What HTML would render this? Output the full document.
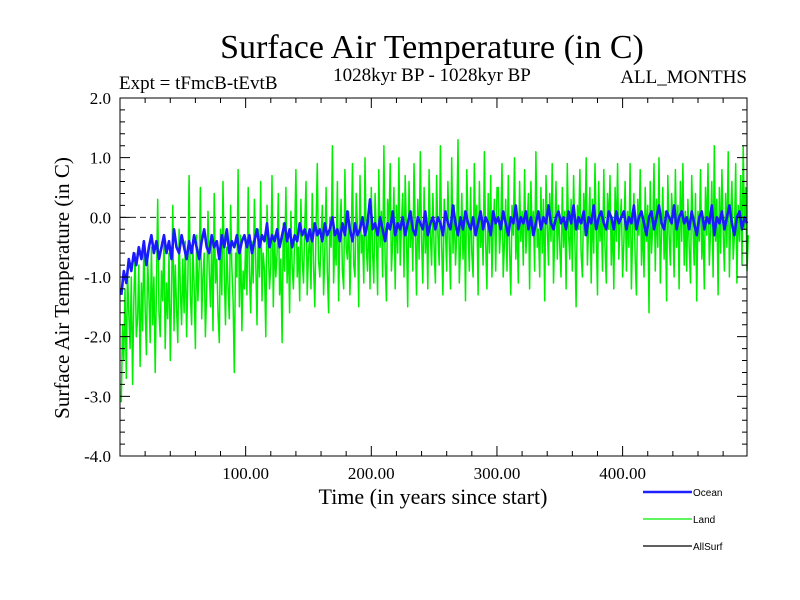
<!DOCTYPE html>
<html><head><meta charset="utf-8"><style>body{margin:0;background:#fff}svg{display:block}</style></head>
<body>
<svg id="chart" width="800" height="600" xmlns="http://www.w3.org/2000/svg" font-family="Liberation Serif, serif">
<text x="432" y="58" font-size="34" text-anchor="middle">Surface Air Temperature (in C)</text>
<text x="119" y="89" font-size="19">Expt = tFmcB-tEvtB</text>
<text x="432" y="81" font-size="19" text-anchor="middle">1028kyr BP - 1028kyr BP</text>
<text x="747" y="83" font-size="19" text-anchor="end">ALL_MONTHS</text>
<text transform="translate(69,288) rotate(-90)" font-size="21" text-anchor="middle">Surface Air Temperature (in C)</text>
<text x="433" y="504" font-size="22" text-anchor="middle">Time (in years since start)</text>
<g id="plot"></g>
<g font-family="Liberation Sans, sans-serif" font-size="10">
<line x1="643" y1="492" x2="692" y2="492" stroke="#2020ff" stroke-width="2.5"/>
<text x="693" y="496">Ocean</text>
<line x1="643" y1="519" x2="692" y2="519" stroke="#00ee00" stroke-width="1.2"/>
<text x="693" y="523">Land</text>
<line x1="643" y1="546" x2="692" y2="546" stroke="#000" stroke-width="1.2"/>
<text x="693" y="550">AllSurf</text>
</g>
</svg>
<script>
const yTicks=[2.0,1.0,0.0,-1.0,-2.0,-3.0,-4.0];
const yTickLabels=["2.0","1.0","0.0","-1.0","-2.0","-3.0","-4.0"];
const xTicks=[100,200,300,400];
const xTickLabels=["100.00","200.00","300.00","400.00"];
const landStart=1, landStep=1;
const landValues=[
-3.1,-1.8,-2.4,-1.2,-2.7,-0.9,-1.6,-2.2,-1.0,-2.8,-1.4,-0.6,-2.0,-1.7,-0.8,-2.5,-1.1,-1.9,-0.4,-1.5,-2.3,-0.7,-1.3,-2.1,-0.5,-1.8,-1.0,-2.6,-1.2,0.3,-1.6,-2.0,-0.9,-1.4,-0.3,-2.2,-1.1,-1.7,-0.6,-2.4,-1.3,0.2,-1.9,-0.8,-1.5,-2.1,-0.2,-1.2,-1.8,-0.7,
-1.6,-0.4,-2.0,-1.0,0.7,-1.3,-1.8,-0.5,-1.1,-2.2,-0.3,-1.4,-0.8,0.5,-1.7,-1.0,-0.6,-2.0,-1.2,0.1,-0.9,-1.5,-0.4,-1.9,0.4,-1.1,-0.7,-1.6,-2.1,-0.2,-1.3,0.6,-0.9,-1.8,-0.5,-1.2,-1.7,0.2,-0.8,-1.4,-2.6,-0.6,-1.0,0.8,-1.5,-0.3,-1.9,-0.9,-1.2,-0.4,
-1.3,0.5,-0.9,-1.6,-0.4,-1.1,0.3,-0.7,-1.8,-0.2,-1.0,0.6,-1.4,-0.6,-0.9,-2.0,0.2,-0.5,-1.2,-0.8,0.7,-1.5,-0.3,-1.0,-0.6,0.4,-1.3,-0.7,-2.1,-0.1,-0.9,0.5,-1.1,-0.4,-1.6,0.1,-0.8,-1.2,-0.3,0.8,-1.0,-0.5,-1.4,0.3,-0.7,-1.1,-0.2,0.6,-1.3,-0.6,
-0.3,-1.2,0.4,-0.8,-1.5,-0.2,0.9,-0.7,-1.0,-0.4,0.2,-1.3,-0.6,0.5,-0.9,-1.6,0.0,-0.5,1.2,-1.1,-0.3,-0.8,0.6,-1.4,-0.2,0.3,-0.9,-1.2,0.8,-0.5,-0.7,0.1,-1.3,-0.4,0.9,-0.8,-1.0,0.4,-0.2,-1.5,0.7,-0.6,-0.3,-1.1,1.0,-0.5,-0.9,0.2,-1.2,0.5,
-0.6,-1.1,0.4,-0.3,-1.3,0.8,-0.5,0.1,-1.0,1.2,-0.7,-1.4,0.3,-0.2,0.9,-0.9,-0.4,0.5,-1.2,0.2,-0.6,1.0,-0.8,-0.1,0.4,-1.0,0.7,-0.3,-1.5,0.6,-0.5,0.1,-0.9,0.9,-0.2,-1.3,0.3,-0.7,1.1,-0.4,-1.1,0.5,-0.6,0.0,-1.2,0.8,-0.3,-0.8,0.4,-0.5,
-1.1,0.7,-0.3,-0.8,1.2,-0.5,-1.3,0.3,-0.2,-0.9,0.6,-0.4,-1.2,1.0,-0.6,0.2,-0.8,-0.3,1.3,-1.1,-0.5,0.4,-0.7,0.1,-1.4,0.8,-0.2,-0.9,0.5,-0.6,-1.0,0.9,-0.3,0.2,-1.3,0.6,-0.5,-0.1,-0.8,1.1,-0.4,-1.2,0.4,-0.6,0.7,-1.0,-0.2,0.3,-0.9,0.5,
0.5,-0.6,-0.2,0.9,-1.0,-0.4,0.3,-0.9,0.7,-0.5,-1.3,0.2,-0.3,1.0,-0.7,-0.1,-1.1,0.6,-0.4,0.1,-0.8,0.8,-0.6,-0.2,0.4,-1.2,0.6,-0.3,0.1,-0.9,1.1,-0.5,-0.2,-1.0,0.5,-0.6,0.3,-1.4,0.7,-0.1,-0.8,0.4,-0.4,0.9,-1.1,-0.2,0.6,-0.7,0.2,-0.5,
-1.0,0.5,-0.5,0.1,-1.2,0.9,-0.3,-0.7,0.3,-0.9,0.7,-0.4,-1.5,0.2,-0.2,0.8,-0.6,-1.0,0.4,-0.3,1.0,-0.8,-0.1,0.5,-1.1,0.3,-0.6,0.9,-0.2,-1.3,0.6,-0.4,0.1,-0.9,0.8,-0.5,-1.1,0.4,-0.2,0.7,-0.8,0.0,-1.2,0.5,-0.4,0.9,-0.7,-0.1,0.3,-1.0,
-0.4,0.6,-0.9,0.1,-0.5,0.9,-1.2,-0.2,0.4,-0.7,-1.3,0.3,-0.3,0.8,-0.8,0.0,-1.0,0.5,-0.4,0.2,-1.6,0.6,-0.6,-0.1,0.9,-0.9,0.3,-0.5,1.0,-1.1,-0.2,0.5,-0.7,0.1,-1.4,0.7,-0.3,-0.8,0.4,-0.1,-1.0,0.8,-0.5,0.2,-1.2,0.6,-0.4,0.9,-0.8,0.1,
-0.9,0.3,-0.5,-1.1,0.7,-0.2,-0.8,0.4,-1.4,0.1,-0.4,0.8,-0.7,-0.1,-1.2,0.5,-0.3,0.9,-0.8,-0.2,0.6,-1.0,1.2,-0.4,0.3,-1.3,0.5,-0.6,0.8,-0.2,-0.9,0.4,-0.5,1.1,-1.0,0.0,0.6,-0.7,-0.3,0.9,-1.1,0.2,-0.4,0.7,-0.8,1.2,-0.2,0.5,-0.9,-0.3];
const oceanStart=1, oceanStep=2;
const oceanValues=[
-1.3,-0.9,-1.1,-0.7,-0.9,-0.6,-0.8,-0.5,-0.7,-0.4,-0.8,-0.5,-0.3,-0.6,-0.4,-0.7,-0.5,-0.3,-0.6,-0.4,-0.7,-0.2,-0.5,-0.6,-0.3,
-0.5,-0.7,-0.4,-0.6,-0.3,-0.5,-0.7,-0.4,-0.2,-0.5,-0.6,-0.3,-0.5,-0.4,-0.7,-0.3,-0.5,-0.2,-0.6,-0.4,-0.5,-0.3,-0.6,-0.4,-0.3,
-0.5,-0.3,-0.6,-0.4,-0.2,-0.5,-0.3,-0.4,-0.1,-0.5,-0.3,-0.4,-0.2,-0.5,-0.3,-0.1,-0.4,-0.2,-0.5,-0.3,-0.4,-0.1,-0.3,-0.2,-0.4,
-0.2,-0.4,-0.1,-0.3,-0.2,-0.4,-0.1,-0.3,-0.2,0.0,-0.3,-0.2,-0.4,-0.1,-0.3,0.1,-0.2,-0.4,-0.1,-0.3,-0.2,0.0,-0.3,-0.1,0.3,
-0.2,-0.1,-0.3,0.0,-0.2,-0.4,-0.1,-0.2,0.1,-0.3,-0.1,-0.2,0.0,-0.3,-0.1,0.1,-0.2,-0.3,0.0,-0.1,-0.2,0.1,-0.3,-0.1,0.0,
-0.2,0.0,-0.1,-0.3,0.1,-0.1,-0.2,0.2,-0.1,-0.3,0.0,-0.2,0.1,-0.1,-0.2,0.0,-0.3,-0.1,0.1,-0.2,0.0,-0.1,-0.3,0.1,-0.1,
0.0,-0.2,0.1,-0.1,-0.3,0.0,-0.1,0.2,-0.2,0.0,-0.1,0.1,-0.2,0.0,-0.3,-0.1,0.1,-0.2,0.0,-0.1,0.2,-0.1,-0.2,0.0,0.1,
-0.1,0.0,-0.2,0.1,-0.1,0.2,-0.2,0.0,-0.1,0.1,-0.3,0.0,-0.1,0.2,-0.2,0.0,0.1,-0.1,-0.2,0.1,0.0,-0.2,0.1,-0.1,0.0,
0.1,-0.2,0.0,-0.1,0.2,-0.2,0.0,0.1,-0.1,-0.3,0.0,0.1,-0.2,0.0,0.2,-0.1,-0.2,0.1,0.0,-0.1,0.2,-0.2,0.0,0.1,-0.1,
0.0,-0.2,0.1,-0.1,-0.3,0.0,0.1,-0.2,0.0,-0.1,0.2,-0.3,0.0,-0.1,0.1,-0.2,0.0,0.2,-0.1,-0.3,0.0,0.1,-0.2,0.0,-0.1];

const L=120,R=747,T=98,B=456,xMin=0,xMax=499,yMin=-4,yMax=2;
const xs=v=>L+(v-xMin)/(xMax-xMin)*(R-L);
const ys=v=>B-(v-yMin)/(yMax-yMin)*(B-T);
const NS='http://www.w3.org/2000/svg';
const plot=document.getElementById('plot');
function mk(tag,attrs){const e=document.createElementNS(NS,tag);for(const k in attrs)e.setAttribute(k,attrs[k]);plot.appendChild(e);return e;}

let e=mk('line',{x1:L,x2:R,y1:ys(0),y2:ys(0),stroke:'#000','stroke-dasharray':'6,4','stroke-width':0.8});



function series(vals,start,step,color,w,name){
  const pts=vals.map((v,i)=>xs(start+i*step).toFixed(1)+','+ys(v).toFixed(1)).join(' ');
  const p=mk('polyline',{points:pts,fill:'none',stroke:color,'stroke-width':w,'stroke-linejoin':'round'});
  
  
}
series(landValues,landStart,landStep,'#00ee00',1.5,'land-series');
series(oceanValues,oceanStart,oceanStep,'#1a1aff',2.6,'ocean-series');

e=mk('rect',{x:L,y:T,width:R-L,height:B-T,fill:'none',stroke:'#000','stroke-width':1});



for(let v=20;v<xMax;v+=20){
  const major=v%100===0, len=major?10:5;
  const t=mk('path',{d:`M${xs(v)},${B}v${-len}M${xs(v)},${T}v${len}`,stroke:'#000','stroke-width':1});
  
  
}
for(let k=0;k<=30;k++){
  const v=yMin+k*0.2, major=k%5===0, len=major?10:5;
  const t=mk('path',{d:`M${L},${ys(v)}h${len}M${R},${ys(v)}h${-len}`,stroke:'#000','stroke-width':1});
  
  
}
yTicks.forEach((v,i)=>{
  const t=mk('text',{x:111,y:ys(v)+6,'font-size':17,'text-anchor':'end'});
  t.textContent=yTickLabels[i];
  
  
});
xTicks.forEach((v,i)=>{
  const t=mk('text',{x:xs(v),y:479,'font-size':17,'text-anchor':'middle'});
  t.textContent=xTickLabels[i];
  
  
});
</script>
</body></html>
